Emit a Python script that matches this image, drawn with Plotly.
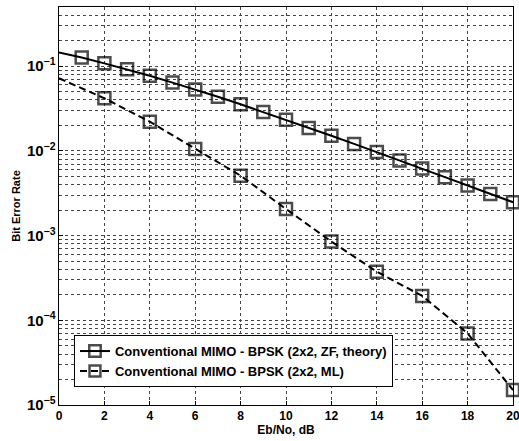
import plotly.graph_objects as go

# Data
snr_zf = [0, 1, 2, 3, 4, 5, 6, 7, 8, 9, 10, 11, 12, 13, 14, 15, 16, 17, 18, 19, 20]
ber_zf = [0.145, 0.127, 0.108, 0.092, 0.077, 0.064, 0.053, 0.0435, 0.0355, 0.0288, 0.0233,
          0.0187, 0.0151, 0.0121, 0.0097, 0.0077, 0.0062, 0.0049, 0.0039, 0.0031, 0.00248]
snr_ml = [0, 2, 4, 6, 8, 10, 12, 14, 16, 18, 20]
ber_ml = [0.072, 0.0418, 0.0221, 0.0105, 0.0051, 0.00206, 0.00085, 0.000375, 0.000194, 0.000070, 0.0000150]

name_zf = "Conventional MIMO - BPSK (2x2, ZF, theory)"
name_ml = "Conventional MIMO - BPSK (2x2, ML)"

x_ticks = [0, 2, 4, 6, 8, 10, 12, 14, 16, 18, 20]

FONT = "Arial"
GRID = "#444444"

def msizes(n):
    return [0] + [12] * (n - 1)

fig = go.Figure()
fig.add_trace(go.Scatter(
    x=snr_zf, y=ber_zf, name=name_zf, mode="lines+markers",
    line=dict(color="black", width=2),
    marker=dict(symbol="square-open", size=msizes(len(snr_zf)), color="black",
                line=dict(color="black", width=2.5)),
    cliponaxis=False,
))
fig.add_trace(go.Scatter(
    x=snr_ml, y=ber_ml, name=name_ml, mode="lines+markers",
    line=dict(color="black", width=2, dash="7px,4px"),
    marker=dict(symbol="square-open", size=msizes(len(snr_ml)), color="black",
                line=dict(color="black", width=2.5)),
    cliponaxis=False,
))

fig.update_layout(
    width=519, height=441,
    margin=dict(l=59, r=6, t=7, b=36, autoexpand=False),
    paper_bgcolor="white", plot_bgcolor="white",
    font=dict(family=FONT, size=11, color="black", weight="bold"),
    showlegend=True,
    legend=dict(
        x=0.033, y=0.045, xanchor="left", yanchor="bottom",
        bgcolor="white", bordercolor="black", borderwidth=1,
        font=dict(family=FONT, size=13, color="black", weight="bold"),
        tracegroupgap=0, itemwidth=30,
    ),
    xaxis=dict(
        range=[0, 20], tickvals=x_ticks, ticktext=[str(v) for v in x_ticks],
        showline=True, linecolor="black", linewidth=1, mirror=True,
        ticks="inside", ticklen=4, tickcolor="black",
        showgrid=True, gridcolor=GRID, gridwidth=1, griddash="dot",
        zeroline=False, automargin=False, ticklabeloverflow="allow",
        tickfont=dict(family=FONT, size=12, weight="bold"),
        title=dict(text="Eb/No, dB", font=dict(family=FONT, size=12, weight="bold"), standoff=3),
    ),
    yaxis=dict(
        type="log", range=[-5, -0.30103], dtick=1, tick0=0,
        exponentformat="power",
        showline=True, linecolor="black", linewidth=1, mirror=True,
        ticks="inside", ticklen=4, tickcolor="black",
        showgrid=True, gridcolor=GRID, gridwidth=1, griddash="dot",
        minor=dict(dtick="D1", showgrid=True, gridcolor=GRID, gridwidth=1, griddash="dot", ticks=""),
        zeroline=False, automargin=False,
        tickfont=dict(family=FONT, size=12, weight="bold"),
        title=dict(text="Bit Error Rate", font=dict(family=FONT, size=11, weight="bold"), standoff=4),
    ),
)

fig.write_html("out.html", config={"displayModeBar": False},
               post_script="document.body.style.margin='0';document.body.style.overflow='hidden';")
